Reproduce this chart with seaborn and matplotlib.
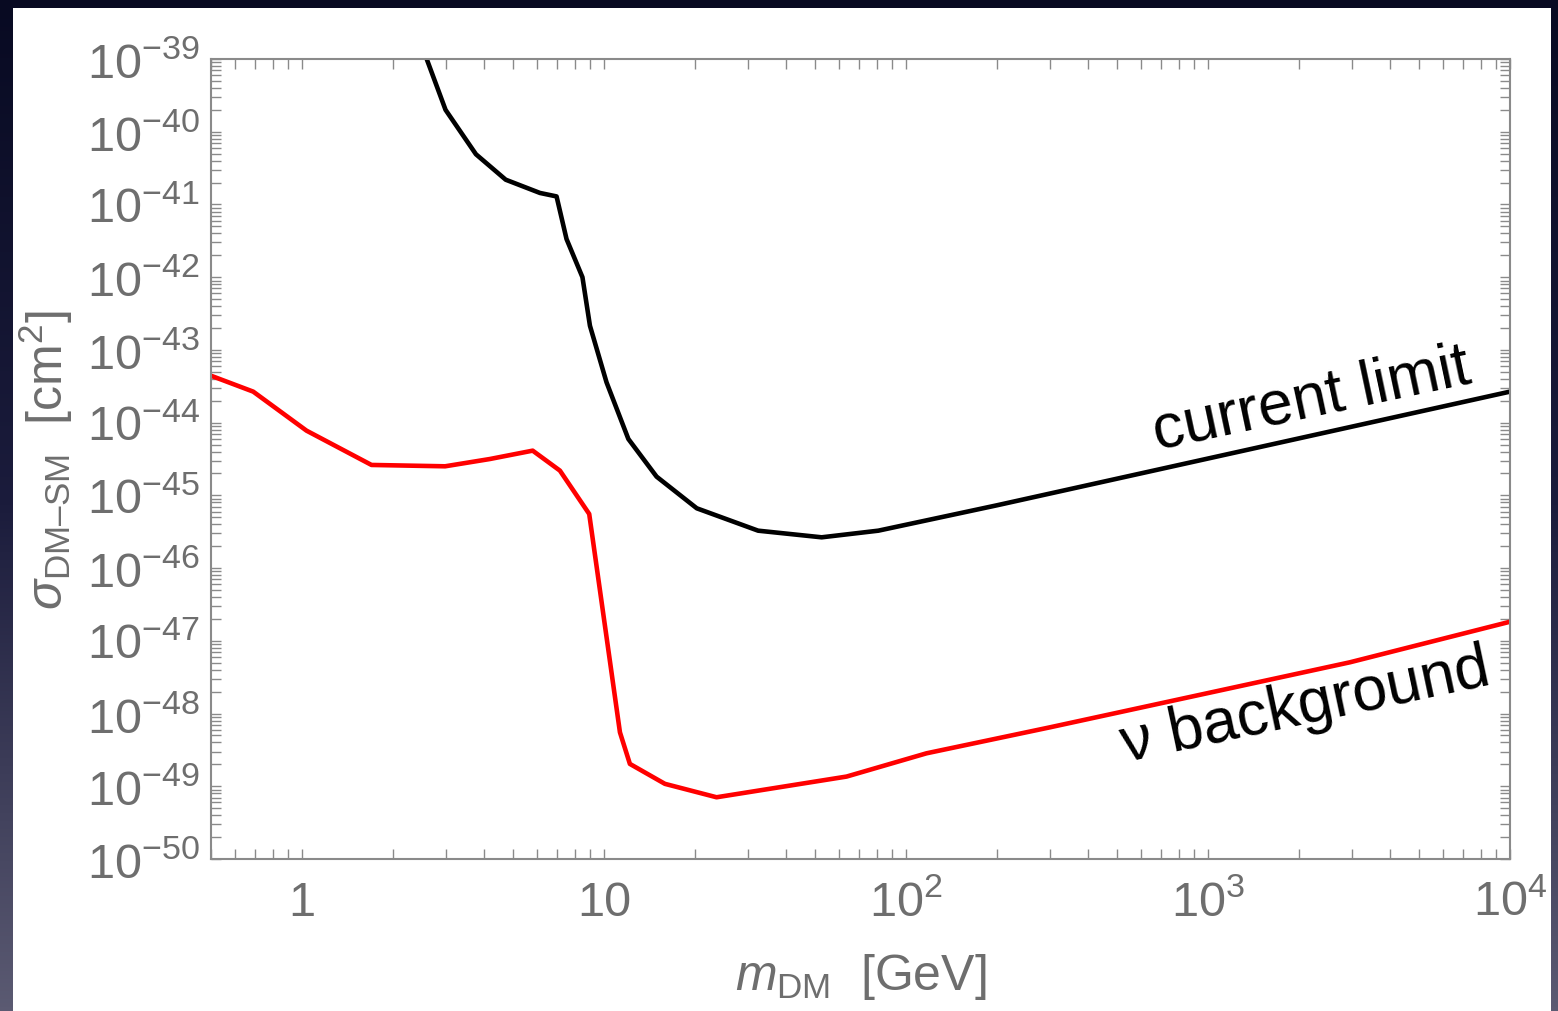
import numpy as np
import matplotlib
matplotlib.use("Agg")
import matplotlib.pyplot as plt
import seaborn as sns
from matplotlib.ticker import LogLocator, NullFormatter
from matplotlib.patches import Rectangle
from matplotlib.colors import LinearSegmentedColormap

# current experimental limit (black curve), m in GeV, sigma in cm^2
limit_mass = [2.59, 2.99, 3.77, 4.73, 6.14, 6.97, 7.52, 8.49, 8.99, 10.2,
              12.05, 14.94, 20.3, 32.4, 52.6, 81.0, 200.0, 1e4]
limit_sigma = [1.0e-39, 2.0e-40, 4.9e-41, 2.19e-41, 1.44e-41, 1.29e-41, 3.35e-42,
               1.0e-42, 2.15e-43, 3.59e-44, 5.96e-45, 1.81e-45, 6.64e-46, 3.27e-46,
               2.65e-46, 3.27e-46, 7.3e-46, 2.67e-44]

# neutrino background floor (red curve)
floor_mass = [0.5, 0.69, 1.036, 1.70, 2.98, 4.19, 5.81, 7.15, 8.94, 11.3,
              12.19, 15.92, 23.6, 63.6, 117.0, 300.0, 2953.0, 1e4]
floor_sigma = [4.42e-44, 2.67e-44, 7.76e-45, 2.62e-45, 2.51e-45, 3.16e-45, 4.12e-45,
               2.19e-45, 5.55e-46, 5.52e-49, 2.03e-49, 1.08e-49, 7.06e-50, 1.36e-49,
               2.84e-49, 6.47e-49, 5.07e-48, 1.83e-47]

x_ticks = [1, 10, 100, 1000, 10000]
x_tick_labels = ["1", "10", r"$10^{2}$", r"$10^{3}$", r"$10^{4}$"]
y_exponents = list(range(-50, -38))

GREY_TEXT = "#6e6e6e"
GREY_AXIS = "#8a8a8a"

sns.set_theme(style="ticks")
plt.rcParams.update({
    "font.family": ["Liberation Sans", "DejaVu Sans"],
    "mathtext.fontset": "custom",
    "mathtext.rm": "Liberation Sans",
    "mathtext.it": "Liberation Sans:italic",
    "mathtext.bf": "Liberation Sans:bold",
})

fig = plt.figure(figsize=(15.58, 10.12), dpi=100)

# dark slide background with a soft vertical gradient
bg = fig.add_axes([0, 0, 1, 1], zorder=-2)
grad = np.linspace(0, 1, 256)[:, None]
cmap = LinearSegmentedColormap.from_list("slide", ["#080a22", "#1b1c3c", "#5b5a72"])
bg.imshow(grad, aspect="auto", cmap=cmap, extent=[0, 1, 0, 1], origin="upper")
bg.set_axis_off()

# white panel
fig.add_artist(Rectangle((13 / 1558, 0), (1551 - 13) / 1558, 1 - 9 / 1012,
                         transform=fig.transFigure, facecolor="white",
                         edgecolor="none", zorder=-1))

ax = fig.add_axes([0.1354, 0.1502, 0.8338, 0.7905])
ax.set_facecolor("white")

sns.lineplot(x=limit_mass, y=limit_sigma, color="black", linewidth=3.3, sort=False, ax=ax)
sns.lineplot(x=floor_mass, y=floor_sigma, color="#ff0000", linewidth=3.3, sort=False, ax=ax)

ax.set_xscale("log")
ax.set_yscale("log")
ax.set_xlim(0.5, 1e4)
ax.set_ylim(1e-50, 1e-39)

# ticks in Mathematica style: inside, on all four sides
ax.set_xticks(x_ticks, x_tick_labels)
y_ticks = [10.0 ** e for e in y_exponents]
ax.set_yticks(y_ticks, [rf"$10^{{{e}}}$" for e in y_exponents])
ax.xaxis.set_minor_locator(LogLocator(base=10, subs=np.arange(2, 10), numticks=100))
ax.yaxis.set_minor_locator(LogLocator(base=10, subs=np.arange(2, 10), numticks=100))
ax.xaxis.set_minor_formatter(NullFormatter())
ax.yaxis.set_minor_formatter(NullFormatter())

ax.tick_params(which="both", direction="in", top=True, right=True,
               length=7.2, width=1.0, color=GREY_AXIS,
               labelcolor=GREY_TEXT, labelsize=35)
ax.tick_params(axis="x", which="major", pad=40)
ax.tick_params(axis="y", which="major", pad=8)
for lbl in ax.get_xticklabels():
    lbl.set_verticalalignment("baseline")

for spine in ax.spines.values():
    spine.set_color(GREY_AXIS)
    spine.set_linewidth(1.5)

ax.set_xlabel(r"$m_{\mathrm{DM}}$  [GeV]", fontsize=36, color=GREY_TEXT)
ax.xaxis.set_label_coords(0.5, -0.115)
ax.set_ylabel(r"$\sigma_{\mathrm{DM–SM}}$  [cm$^{2}$]", fontsize=36, color=GREY_TEXT)
ax.yaxis.set_label_coords(-0.105, 0.5)

# curve annotations
ax.text(678, 4.34e-45, "current limit", rotation=12, rotation_mode="anchor",
        ha="left", va="baseline", fontsize=45, color="black")
ax.text(531, 2.23e-49, "ν background", rotation=12, rotation_mode="anchor",
        ha="left", va="baseline", fontsize=45, color="black")

fig.savefig("out.png", dpi=100, facecolor=fig.get_facecolor())
